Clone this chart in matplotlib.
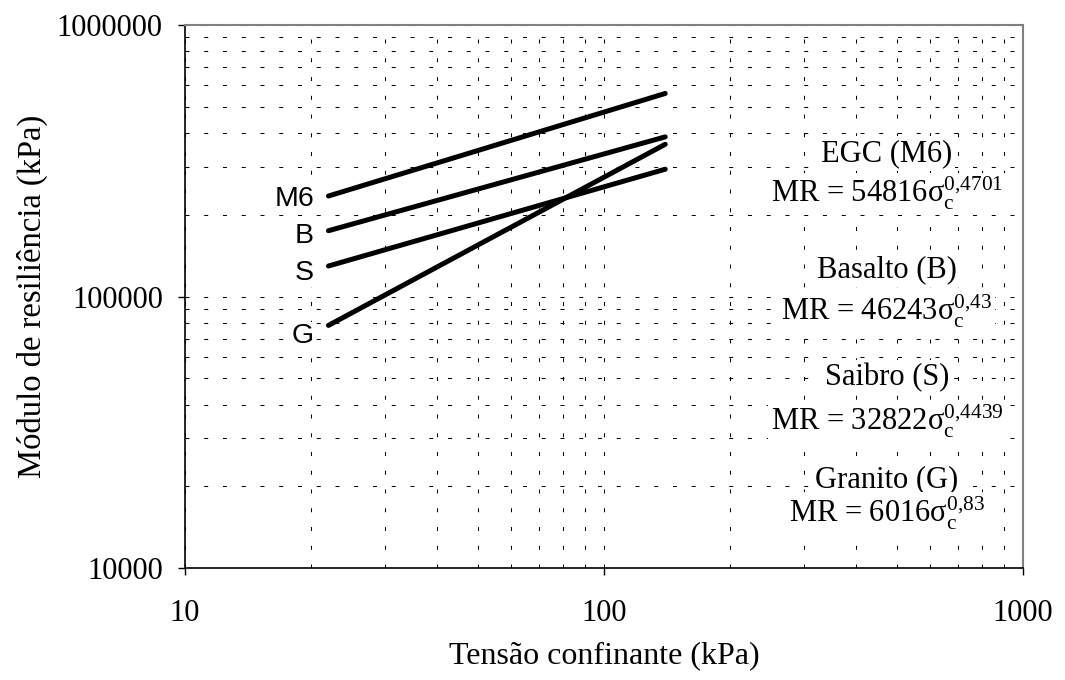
import matplotlib
matplotlib.use("Agg")
import matplotlib.pyplot as plt
from matplotlib.ticker import LogLocator, NullFormatter, FixedLocator

plt.rcParams['font.family'] = ['Liberation Serif', 'DejaVu Serif']
plt.rcParams['mathtext.fontset'] = 'custom'
plt.rcParams['mathtext.rm'] = 'Liberation Serif'
plt.rcParams['mathtext.it'] = 'Liberation Serif:italic'

# Data: endpoints of each fitted line (kPa)
x_range = [22, 140]
series_labels = ['M6', 'B', 'S', 'G']
mr_m6 = [234500, 559600]
mr_b = [174700, 387200]
mr_s = [129500, 294300]
mr_g = [78260, 363600]
series_values = [mr_m6, mr_b, mr_s, mr_g]

eq_titles = ['EGC (M6)', 'Basalto (B)', 'Saibro (S)', 'Granito (G)']
eq_coefs = ['54816', '46243', '32822', '6016']
eq_exps = ['0{,}4701', '0{,}43', '0{,}4439', '0{,}83']

x_ticks = [10, 100, 1000]
y_ticks = [10000, 100000, 1000000]

W, H = 1065, 680
L, R, T, B = 185, 1023, 25, 568

fig = plt.figure(figsize=(W / 100, H / 100), dpi=100)
ax = fig.add_axes([L / W, 1 - B / H, (R - L) / W, (B - T) / H])
ax.set_xscale('log')
ax.set_yscale('log')
ax.set_xlim(10, 1000)
ax.set_ylim(10000, 1000000)

ax.xaxis.set_major_locator(FixedLocator(x_ticks))
ax.yaxis.set_major_locator(FixedLocator(y_ticks))
ax.set_xticklabels([str(v) for v in x_ticks])
ax.set_yticklabels([str(v) for v in y_ticks])
ax.xaxis.set_minor_locator(LogLocator(base=10, subs=range(2, 10)))
ax.yaxis.set_minor_locator(LogLocator(base=10, subs=range(2, 10)))
ax.xaxis.set_minor_formatter(NullFormatter())
ax.yaxis.set_minor_formatter(NullFormatter())

ax.grid(True, which='both', color='black', linestyle=(0, (3.8, 14.2)), linewidth=0.75)
ax.tick_params(axis='both', which='major', labelsize=22, direction='out', length=5, width=1)
ax.tick_params(axis='y', which='major', pad=11)
ax.tick_params(axis='x', which='major', pad=17)
ax.tick_params(axis='both', which='minor', length=0)
ax.tick_params(top=False, right=False)

for side in ['top', 'right']:
    ax.spines[side].set_color('#808080')
    ax.spines[side].set_linewidth(1.5)
for side in ['left', 'bottom']:
    ax.spines[side].set_color('black')
    ax.spines[side].set_linewidth(1.2)

def ypx(py):
    return (B - py) / (B - T)

def xpx(px):
    return (px - L) / (R - L)

label_cy = [196, 233, 270, 333]
for lab, vals, cy in zip(series_labels, series_values, label_cy):
    ax.plot(x_range, vals, color='black', linewidth=3.6, solid_capstyle='round', zorder=3)
    ax.text(xpx(314), ypx(cy), lab, transform=ax.transAxes, ha='right', va='center_baseline',
            fontsize=20.5, family=['Liberation Sans', 'DejaVu Sans'],
            bbox=dict(facecolor='white', edgecolor='none', pad=1), zorder=4)

# equation text blocks (baselines in pixels)
title_base = [161, 277, 385, 487]
eq_base = [203, 320, 430, 522]
x_c = 887
for t, c, e, tb, eb in zip(eq_titles, eq_coefs, eq_exps, title_base, eq_base):
    ax.text(xpx(x_c), ypx(tb), t, transform=ax.transAxes, ha='center', va='baseline',
            fontsize=22, bbox=dict(facecolor='white', edgecolor='none', pad=2), zorder=4)
    ax.text(xpx(x_c), ypx(eb), r'MR = %s$\mathrm{σ}_{\mathrm{c}}^{\mathrm{%s}}$' % (c, e),
            transform=ax.transAxes, ha='center', va='baseline',
            fontsize=22, bbox=dict(facecolor='white', edgecolor='none', pad=2), zorder=4)

ax.set_xlabel('Tensão confinante (kPa)', fontsize=23, labelpad=10)
ax.set_ylabel('Módulo de resiliência (kPa)', fontsize=23.5, labelpad=6)

fig.savefig('out.png', dpi=100)
